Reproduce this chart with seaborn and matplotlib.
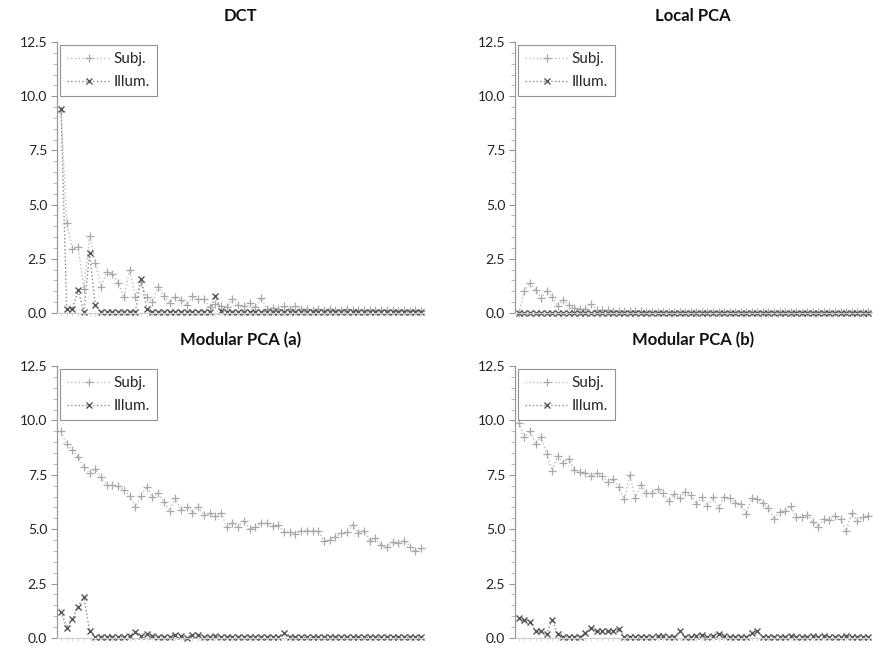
import numpy as np
import pandas as pd
import seaborn as sns
import matplotlib
matplotlib.use("Agg")
import matplotlib.pyplot as plt
from matplotlib.ticker import MultipleLocator, FormatStrFormatter

# --- data (64 components per panel) ---
titles = ["DCT", "Local PCA", "Modular PCA (a)", "Modular PCA (b)"]

dct_subj = [9.3, 4.15, 2.95, 3.05, 1.1, 3.55, 2.3, 1.2, 1.9, 1.8,
            1.4, 0.72, 2.0, 0.75, 1.45, 0.72, 0.52, 1.2, 0.78, 0.48,
            0.75, 0.6, 0.37, 0.78, 0.63, 0.63, 0.26, 0.4, 0.32, 0.26,
            0.63, 0.37, 0.32, 0.48, 0.26, 0.68, 0.2, 0.25, 0.2, 0.3,
            0.2, 0.3, 0.2, 0.2, 0.15, 0.2, 0.15, 0.2, 0.15, 0.15,
            0.2, 0.15, 0.15, 0.12, 0.15, 0.12, 0.15, 0.12, 0.12, 0.1,
            0.12, 0.1, 0.12, 0.1]
dct_illum = [9.4, 0.2, 0.2, 1.05, 0.05, 2.75, 0.35, 0.05, 0.05, 0.05,
             0.05, 0.05, 0.05, 0.05, 1.55, 0.2, 0.05, 0.05, 0.05, 0.05,
             0.05, 0.05, 0.05, 0.05, 0.05, 0.05, 0.05, 0.8, 0.1, 0.05,
             0.05, 0.05, 0.05, 0.05, 0.05, 0.05, 0.05, 0.05, 0.05, 0.05,
             0.05, 0.05, 0.05, 0.05, 0.05, 0.05, 0.05, 0.05, 0.05, 0.05,
             0.05, 0.05, 0.05, 0.05, 0.05, 0.05, 0.05, 0.05, 0.05, 0.05,
             0.05, 0.05, 0.05, 0.05]

lpca_subj = [0.0, 1.03, 1.4, 1.05, 0.68, 1.03, 0.75, 0.32, 0.6, 0.37,
             0.23, 0.2, 0.2, 0.42, 0.15, 0.12, 0.15, 0.1, 0.1, 0.08,
             0.1, 0.08, 0.08, 0.06, 0.05, 0.05, 0.05, 0.05, 0.05, 0.05,
             0.05, 0.05, 0.05, 0.05, 0.05, 0.05, 0.05, 0.05, 0.05, 0.05,
             0.05, 0.05, 0.05, 0.05, 0.05, 0.05, 0.05, 0.05, 0.05, 0.05,
             0.05, 0.05, 0.05, 0.05, 0.05, 0.05, 0.05, 0.05, 0.05, 0.05,
             0.05, 0.05, 0.05, 0.05]
lpca_illum = [0.02, 0.02, 0.02, 0.02, 0.02, 0.02, 0.02, 0.02, 0.02, 0.02,
              0.02, 0.02, 0.02, 0.02, 0.02, 0.02, 0.02, 0.02, 0.02, 0.02,
              0.02, 0.02, 0.02, 0.02, 0.02, 0.02, 0.02, 0.02, 0.02, 0.02,
              0.02, 0.02, 0.02, 0.02, 0.02, 0.02, 0.02, 0.02, 0.02, 0.02,
              0.02, 0.02, 0.02, 0.02, 0.02, 0.02, 0.02, 0.02, 0.02, 0.02,
              0.02, 0.02, 0.02, 0.02, 0.02, 0.02, 0.02, 0.02, 0.02, 0.02,
              0.02, 0.02, 0.02, 0.02]

mpa_subj = [9.5, 8.9, 8.64, 8.3, 7.87, 7.6, 7.75, 7.38, 7.03, 7.01,
            6.98, 6.8, 6.54, 6.03, 6.54, 6.95, 6.46, 6.65, 6.26, 5.85,
            6.42, 5.88, 6.03, 5.76, 6.03, 5.64, 5.73, 5.6, 5.76, 5.11,
            5.3, 5.08, 5.39, 4.99, 5.08, 5.27, 5.27, 5.15, 5.2, 4.89,
            4.87, 4.78, 4.93, 4.93, 4.93, 4.93, 4.47, 4.5, 4.66, 4.81,
            4.87, 5.19, 4.84, 4.93, 4.47, 4.58, 4.27, 4.17, 4.41, 4.38,
            4.47, 4.2, 3.98, 4.12]
mpa_illum = [1.21, 0.47, 0.86, 1.44, 1.9, 0.34, 0.03, 0.05, 0.05, 0.05,
             0.05, 0.05, 0.08, 0.29, 0.1, 0.18, 0.1, 0.05, 0.05, 0.05,
             0.15, 0.1, 0.0, 0.15, 0.15, 0.05, 0.05, 0.1, 0.05, 0.05,
             0.05, 0.05, 0.05, 0.05, 0.05, 0.05, 0.05, 0.05, 0.05, 0.21,
             0.03, 0.03, 0.03, 0.03, 0.03, 0.03, 0.03, 0.03, 0.03, 0.03,
             0.03, 0.03, 0.03, 0.03, 0.03, 0.03, 0.03, 0.03, 0.03, 0.03,
             0.03, 0.03, 0.03, 0.03]

mpb_subj = [9.9, 9.22, 9.53, 8.91, 9.25, 8.45, 7.69, 8.36, 8.06, 8.24,
            7.72, 7.64, 7.6, 7.44, 7.56, 7.44, 7.18, 7.29, 6.95, 6.37,
            7.49, 6.42, 7.03, 6.65, 6.65, 6.83, 6.65, 6.31, 6.62, 6.42,
            6.72, 6.57, 6.16, 6.46, 6.06, 6.46, 5.96, 6.46, 6.42, 6.22,
            6.16, 5.7, 6.42, 6.37, 6.22, 5.96, 5.45, 5.8, 5.85, 6.06,
            5.57, 5.57, 5.65, 5.34, 5.11, 5.45, 5.42, 5.6, 5.45, 4.93,
            5.73, 5.39, 5.54, 5.6]
mpb_illum = [0.9, 0.85, 0.75, 0.3, 0.3, 0.2, 0.85, 0.2, 0.05, 0.05,
             0.05, 0.05, 0.25, 0.45, 0.3, 0.3, 0.3, 0.3, 0.4, 0.03,
             0.03, 0.03, 0.03, 0.03, 0.05, 0.08, 0.1, 0.05, 0.05, 0.3,
             0.05, 0.05, 0.1, 0.15, 0.05, 0.1, 0.2, 0.1, 0.05, 0.05,
             0.05, 0.05, 0.25, 0.3, 0.05, 0.05, 0.05, 0.05, 0.05, 0.1,
             0.05, 0.05, 0.05, 0.1, 0.05, 0.1, 0.05, 0.05, 0.05, 0.1,
             0.05, 0.05, 0.05, 0.05]

panels = [(dct_subj, dct_illum), (lpca_subj, lpca_illum),
          (mpa_subj, mpa_illum), (mpb_subj, mpb_illum)]

sns.set_theme(style="white")
plt.rcParams['font.family'] = ['Lato', 'DejaVu Sans']

fig = plt.figure(figsize=(8.73, 6.46), dpi=100)
W, H = 873, 646
# axes boxes in pixels: (left, top, right, bottom)
boxes = [(57, 42, 424, 313), (515, 42, 871, 313),
         (57, 366, 424, 638), (515, 366, 871, 638)]

for (subj, illum), title, (l, t, r, b) in zip(panels, titles, boxes):
    ax = fig.add_axes([l / W, 1 - b / H, (r - l) / W, (b - t) / H])
    df = pd.DataFrame({"idx": np.arange(len(subj)), "Subj.": subj, "Illum.": illum})
    sns.lineplot(data=df, x="idx", y="Subj.", ax=ax, color="#bdbdbd",
                 linestyle=":", linewidth=1, marker="+", markersize=5.5,
                 markeredgewidth=0.9, markeredgecolor="#a8a8a8",
                 label="Subj.", clip_on=False)
    sns.lineplot(data=df, x="idx", y="Illum.", ax=ax, color="#8a8a8a",
                 linestyle=":", linewidth=1, marker="x", markersize=4,
                 markeredgewidth=1.0, markeredgecolor="#555555",
                 label="Illum.", clip_on=False)

    ax.set_xlim(-0.7, 63.5)
    ax.set_ylim(0, 12.5)
    ax.yaxis.set_major_locator(MultipleLocator(2.5))
    ax.yaxis.set_minor_locator(MultipleLocator(0.5))
    ax.yaxis.set_major_formatter(FormatStrFormatter('%.1f'))
    ax.set_xticks(np.arange(len(subj)))
    ax.set_xticklabels([])
    ax.tick_params(axis='y', which='major', left=True, length=4, width=0.8,
                   color="#999999", labelsize=10, labelcolor="#222222", pad=3)
    ax.tick_params(axis='y', which='minor', left=True, length=3, width=0.6,
                   color="#aaaaaa")
    ax.tick_params(axis='x', which='major', bottom=True, length=2, width=0.5,
                   color="#cccccc")
    ax.set_xlabel("")
    ax.set_ylabel("")
    for s in ["top", "right"]:
        ax.spines[s].set_visible(False)
    ax.spines["left"].set_color("#999999")
    ax.spines["left"].set_linewidth(0.9)
    ax.spines["bottom"].set_color("#cccccc")
    ax.spines["bottom"].set_linewidth(0.8)
    ax.set_title(title, fontsize=12, fontweight="bold", pad=15, color="#111111")

    leg = ax.legend(loc="upper left", fontsize=11, frameon=True, fancybox=False,
                    borderaxespad=0.2, handlelength=2.9, handletextpad=0.15,
                    labelspacing=0.6, borderpad=0.45)
    leg.get_frame().set_edgecolor("#777777")
    leg.get_frame().set_linewidth(0.8)

fig.savefig("out.png", dpi=100)
